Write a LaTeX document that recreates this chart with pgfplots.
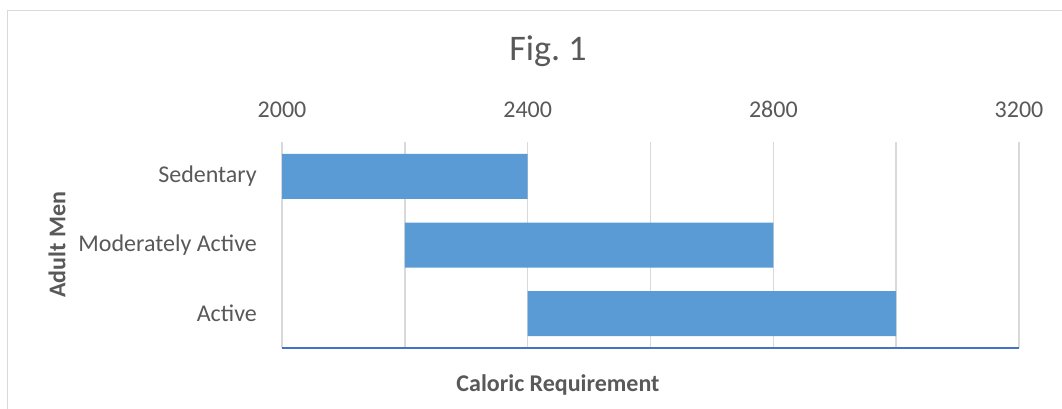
\documentclass[border=0pt]{standalone}
\usepackage{fontspec}
\setmainfont{Carlito}
\usepackage{pgfplots}
\pgfplotsset{compat=1.18}

\definecolor{barblue}{HTML}{5B9BD5}
\definecolor{txtgray}{HTML}{595959}
\definecolor{gridgray}{HTML}{D9D9D9}
\definecolor{axisblue}{HTML}{4472C4}

\begin{document}
\begin{tikzpicture}
  % fixed canvas: origin at the top-left corner, 1pt per pixel
  \useasboundingbox (0pt,0pt) rectangle (1062pt,-408pt);
  \fill[white] (0pt,0pt) rectangle (1062pt,-408pt);
  \draw[gridgray, line width=1.5pt] (7.5pt,-10.5pt) rectangle (1120pt,-460pt);

  \begin{axis}[
    at={(282pt,-348pt)}, anchor=south west,
    scale only axis,
    width=737pt, height=206pt,
    xbar stacked,
    bar width=45pt,
    xmin=2000, xmax=3200,
    ymin=-0.5, ymax=2.5,
    xtick={2000,2400,2800,3200},
    minor xtick={2200,2600,3000},
    xticklabel pos=top,
    xmajorgrids, xminorgrids,
    grid style={gridgray, line width=1.5pt},
    minor grid style={gridgray, line width=1.5pt},
    ytick={0,1,2},
    yticklabels={Active, Moderately Active, Sedentary},
    axis line style={draw=none},
    major tick style={draw=none},
    minor tick style={draw=none},
    tick label style={font=\fontsize{24}{28}\selectfont, text=txtgray},
    /pgf/number format/assume math mode=true,
    /pgf/number format/1000 sep={},
    xticklabel style={anchor=base, inner sep=0pt, yshift=24.3pt},
    yticklabel style={anchor=east, inner sep=0pt, xshift=-25pt},
    clip=true,
  ]
    % start offsets (hidden) and durations of each range
    \addplot[draw=none, fill=none, forget plot] coordinates {(2000,2) (2200,1) (2400,0)};
    \addplot[draw=none, fill=barblue] coordinates {(400,2) (600,1) (600,0)};
    \draw[axisblue, line width=2pt] (rel axis cs:0,0) -- (rel axis cs:1,0);
  \end{axis}

  \node[anchor=base, text=txtgray, font=\fontsize{36}{42}\selectfont, inner sep=0pt]
    at (548pt,-60.7pt) {Fig.\ 1};
  \node[anchor=base, text=txtgray, font=\fontsize{24}{28}\selectfont\bfseries, inner sep=0pt]
    at (558pt,-391.5pt) {Caloric Requirement};
  \node[rotate=90, text=txtgray, font=\fontsize{24}{28}\selectfont\bfseries, inner sep=0pt]
    at (57pt,-245pt) {Adult Men};
\end{tikzpicture}
\end{document}
